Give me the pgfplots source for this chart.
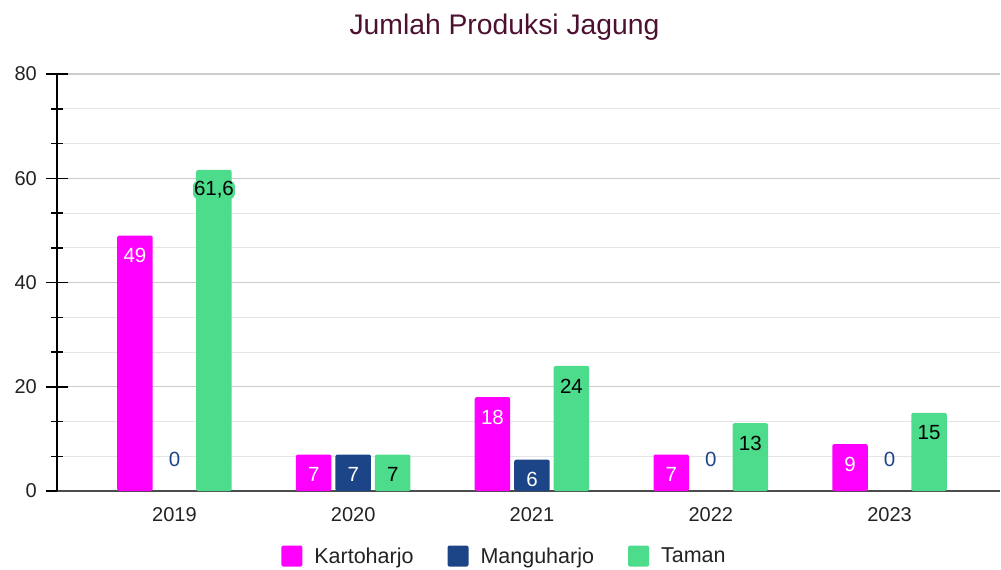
\documentclass[border=0pt]{standalone}
\usepackage{pgfplots}
\pgfplotsset{compat=1.18}
\usepackage{fontspec}
\setmainfont{Liberation Sans}
\definecolor{karto}{HTML}{FF00FF}
\definecolor{mangu}{HTML}{1C4587}
\definecolor{taman}{HTML}{4CDC8B}
\definecolor{titlec}{HTML}{4C1130}
\definecolor{txt}{HTML}{222222}
\begin{document}
\begin{tikzpicture}
\path[use as bounding box] (-57bp,-79bp) rectangle (944bp,491bp);
\node[font=\fontsize{28.3bp}{32bp}\selectfont, text=titlec, anchor=base] at (447.5bp,456bp) {Jumlah Produksi Jagung};
\begin{axis}[
  at={(0,0)}, anchor=south west,
  scale only axis, width=943bp, height=417bp,
  xmin=-0.657, xmax=4.618, ymin=0, ymax=80,
  ytick={0,20,40,60,80}, minor y tick num=2,
  xtick={0,1,2,3,4}, xticklabels={2019,2020,2021,2022,2023},
  axis lines*=left,
  x axis line style={draw=black!70, line width=2bp},
  y axis line style={draw=black, line width=1.5bp},
  ymajorgrids, yminorgrids,
  major grid style={draw=black!20, line width=1.2bp},
  minor grid style={draw=black!10, line width=1bp},
  tick align=center,
  major tick length=22bp, minor tick length=12bp,
  ytick style={draw=black, line width=1.5bp},
  xtick style={draw=none},
  ticklabel style={font=\fontsize{20bp}{24bp}\selectfont, text=txt},
  /pgf/number format/assume math mode=true,
  yticklabel style={anchor=east, inner sep=0pt, xshift=-9bp},
  xticklabel style={anchor=north, inner sep=0pt, yshift=6bp},
  ybar, bar width=35.5bp,
  clip=false,
  nodes near coords={\pgfmathprintnumber[assume math mode=true, use comma]{\pgfplotspointmeta}},
  every node near coord/.append style={font=\fontsize{20.5bp}{24bp}\selectfont, anchor=center},
  legend columns=3,
  legend image code/.code={\fill[#1, rounded corners=2bp] (0bp,-10.5bp) rectangle (21bp,10.5bp);},
  legend style={draw=none, fill=none, at={(axis description cs:0.4745,-0.156)}, anchor=center,
    font=\fontsize{21.5bp}{25bp}\selectfont, text=txt,
    /tikz/every odd column/.append style={column sep=10bp},
    /tikz/every even column/.append style={column sep=32bp}},
]
\addplot[fill=karto, draw=none, rounded corners=2bp, bar shift=-39.5bp,
  every node near coord/.append style={text=white, yshift=-20bp}]
  coordinates {(0,49) (1,7) (2,18) (3,7) (4,9)};
\addlegendentry{Kartoharjo}
\addplot[fill=mangu, draw=none, rounded corners=2bp, bar shift=0bp,
  every node near coord/.append style={text=white, yshift=-20bp}]
  coordinates {(1,7) (2,6)};
\addlegendentry{Manguharjo}
\addplot[fill=none, draw=none, bar shift=0bp, forget plot,
  every node near coord/.append style={text=mangu, yshift=32bp}]
  coordinates {(0,0) (3,0) (4,0)};
\addplot[fill=taman, draw=none, rounded corners=2bp, bar shift=39.5bp,
  every node near coord/.append style={text=black, yshift=-20bp, fill=taman, rounded corners=6bp, inner sep=1bp}]
  coordinates {(0,61.6) (1,7) (2,24) (3,13) (4,15)};
\addlegendentry{Taman}
\end{axis}
\end{tikzpicture}
\end{document}
